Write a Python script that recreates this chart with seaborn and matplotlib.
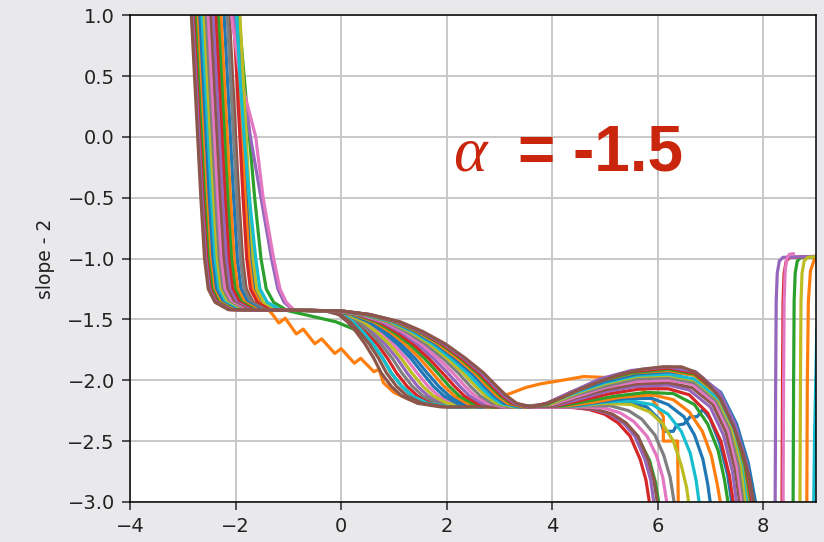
import matplotlib
matplotlib.use("Agg")
import matplotlib.pyplot as plt
import pandas as pd
import seaborn as sns

# ---- data -------------------------------------------------------------
# Upper branch: x position of every curve at these fixed heights
TOP_LEVELS = [1.3, 1.0, 0.5, 0.0, -0.5, -1.0, -1.25, -1.36, -1.42]
top_x = [
    [-1.99, -1.96, -1.90, -1.84, -1.78, -1.71, -1.64, -1.51, -1.26],
    [-2.03, -2.00, -1.94, -1.88, -1.82, -1.75, -1.68, -1.55, -1.38],
    [-1.97, -1.94, -1.84, -1.74, -1.64, -1.52, -1.42, -1.28, -1.05],
    [-2.07, -2.04, -1.98, -1.92, -1.86, -1.79, -1.72, -1.59, -1.34],
    [-2.05, -2.02, -1.88, -1.72, -1.52, -1.32, -1.20, -1.08, -0.92],
    [-2.15, -2.12, -2.06, -2.00, -1.94, -1.87, -1.80, -1.67, -1.42],
    [-2.11, -2.08, -1.92, -1.62, -1.48, -1.28, -1.16, -1.04, -0.90],
    [-2.19, -2.16, -2.10, -2.04, -1.98, -1.91, -1.84, -1.71, -1.46],
    [-1.95, -1.92, -1.86, -1.80, -1.74, -1.67, -1.60, -1.47, -1.22],
    [-2.01, -1.98, -1.92, -1.84, -1.74, -1.62, -1.54, -1.40, -1.16],
    [-2.25, -2.22, -2.16, -2.10, -2.04, -1.97, -1.90, -1.77, -1.52],
    [-2.31, -2.28, -2.22, -2.16, -2.10, -2.03, -1.96, -1.83, -1.58],
    [-2.36, -2.33, -2.27, -2.21, -2.15, -2.08, -2.01, -1.88, -1.63],
    [-2.41, -2.38, -2.32, -2.26, -2.20, -2.13, -2.06, -1.93, -1.68],
    [-2.46, -2.43, -2.37, -2.31, -2.25, -2.18, -2.11, -1.98, -1.73],
    [-2.51, -2.48, -2.42, -2.36, -2.30, -2.23, -2.16, -2.03, -1.78],
    [-2.56, -2.53, -2.47, -2.41, -2.35, -2.28, -2.21, -2.08, -1.83],
    [-2.61, -2.58, -2.52, -2.46, -2.40, -2.33, -2.26, -2.13, -1.88],
    [-2.65, -2.62, -2.56, -2.50, -2.44, -2.37, -2.30, -2.17, -1.92],
    [-2.69, -2.66, -2.60, -2.54, -2.48, -2.41, -2.34, -2.21, -1.96],
    [-2.73, -2.70, -2.64, -2.58, -2.52, -2.45, -2.38, -2.25, -2.00],
    [-2.77, -2.74, -2.68, -2.62, -2.56, -2.49, -2.42, -2.29, -2.04],
    [-2.80, -2.77, -2.71, -2.65, -2.59, -2.52, -2.45, -2.32, -2.07],
    [-2.83, -2.80, -2.74, -2.68, -2.62, -2.55, -2.48, -2.35, -2.10],
    [-2.85, -2.82, -2.76, -2.70, -2.64, -2.57, -2.50, -2.37, -2.12],
    [-2.87, -2.84, -2.78, -2.72, -2.66, -2.59, -2.52, -2.39, -2.14],
]

# Step from the -1.42 plateau down to the -2.22 plateau
STEP_LEVELS = [-1.43, -1.46, -1.52, -1.60, -1.70, -1.82, -1.94, -2.05, -2.13, -2.19, -2.22]
step_x = [
    [-0.165, 0.22, 0.57, 0.85, 1.13, 1.40, 1.63, 1.85, 2.05, 2.30, 2.67],
    None,
    [-1.00, -0.70, -0.10, 0.35, 0.60, 0.79, 0.95, 1.15, 1.35, 1.64, 2.07],
    [-0.255, 0.04, 0.27, 0.47, 0.68, 0.88, 1.05, 1.25, 1.45, 1.73, 2.16],
    [-0.225, 0.10, 0.37, 0.60, 0.83, 1.06, 1.25, 1.45, 1.65, 1.92, 2.33],
    [-0.30, -0.05, 0.12, 0.28, 0.45, 0.62, 0.76, 0.95, 1.15, 1.45, 1.90],
    [-0.195, 0.16, 0.47, 0.72, 0.98, 1.23, 1.44, 1.65, 1.85, 2.11, 2.50],
    [-0.24, 0.07, 0.32, 0.53, 0.75, 0.97, 1.15, 1.35, 1.55, 1.83, 2.24],
    [-0.21, 0.13, 0.42, 0.66, 0.91, 1.14, 1.34, 1.55, 1.75, 2.01, 2.42],
    [-0.27, 0.01, 0.22, 0.41, 0.60, 0.79, 0.95, 1.15, 1.35, 1.64, 2.07],
    [-0.18, 0.19, 0.52, 0.79, 1.06, 1.32, 1.54, 1.75, 1.95, 2.20, 2.59],
    [-0.15, 0.25, 0.62, 0.92, 1.21, 1.49, 1.73, 1.95, 2.15, 2.39, 2.76],
    [-0.135, 0.28, 0.67, 0.98, 1.29, 1.58, 1.83, 2.05, 2.24, 2.48, 2.85],
    [-0.12, 0.31, 0.72, 1.04, 1.36, 1.66, 1.92, 2.15, 2.34, 2.58, 2.93],
    [-0.105, 0.34, 0.77, 1.11, 1.44, 1.75, 2.02, 2.25, 2.44, 2.67, 3.02],
    [-0.285, -0.02, 0.17, 0.34, 0.53, 0.71, 0.86, 1.05, 1.25, 1.54, 1.99],
    [-0.09, 0.37, 0.82, 1.17, 1.51, 1.84, 2.12, 2.35, 2.54, 2.77, 3.10],
    [-0.075, 0.40, 0.87, 1.23, 1.59, 1.93, 2.22, 2.45, 2.64, 2.86, 3.19],
    [-0.06, 0.43, 0.92, 1.30, 1.67, 2.01, 2.31, 2.55, 2.74, 2.95, 3.28],
    [-0.05, 0.45, 0.96, 1.35, 1.73, 2.08, 2.39, 2.63, 2.82, 3.03, 3.34],
    [-0.04, 0.48, 1.00, 1.40, 1.79, 2.15, 2.47, 2.71, 2.90, 3.10, 3.41],
    [-0.03, 0.50, 1.03, 1.44, 1.83, 2.20, 2.53, 2.77, 2.96, 3.16, 3.47],
    [-0.02, 0.51, 1.06, 1.47, 1.88, 2.26, 2.58, 2.83, 3.02, 3.22, 3.52],
    [-0.01, 0.53, 1.08, 1.50, 1.91, 2.29, 2.62, 2.87, 3.06, 3.25, 3.55],
    [-0.005, 0.54, 1.10, 1.52, 1.94, 2.33, 2.66, 2.91, 3.10, 3.29, 3.59],
    [0.00, 0.55, 1.12, 1.55, 1.97, 2.36, 2.70, 2.95, 3.14, 3.33, 3.62],
]

# Remaining part of each curve: hump, fall below -3 and (for some) the return to -0.98
tail_x = [
    [4.4, 4.9, 5.4, 5.8, 6.05, 6.12, 6.3, 6.36, 6.5, 6.62, 6.75, 6.86, 7.0, 7.18, 7.33, 7.44],
    [-1.30, -1.18, -1.06, -0.85, -0.72, -0.50, -0.37, -0.12, 0.00, 0.25, 0.37, 0.62, 0.72, 0.80,
     1.00, 1.30, 1.70, 2.20, 2.60, 2.90, 3.20, 3.50, 3.78, 4.20, 4.60, 5.16, 5.50, 5.85, 6.11,
     6.11, 6.38, 6.40, 8.70, 8.83, 8.84, 8.86, 8.90, 8.98, 9.20],
    [4.4, 4.8, 5.15, 5.42, 5.65, 5.85, 5.96, 6.06, 6.1, 8.54, 8.57, 8.58, 8.59, 8.61, 8.65, 8.72, 9.2],
    [4.3, 4.7, 5.0, 5.25, 5.48, 5.67, 5.78, 5.88, 5.9, 8.33, 8.36, 8.37, 8.38, 8.40, 8.44, 8.51, 9.2],
    [4.4, 4.8, 5.1, 5.35, 5.57, 5.76, 5.87, 5.96, 6.0, 8.2, 8.23, 8.24, 8.25, 8.27, 8.31, 8.38, 9.2],
    [4.45, 4.85, 5.15, 5.4, 5.63, 5.82, 5.93, 6.03],
    [4.6, 5.0, 5.3, 5.55, 5.8, 5.98, 6.1, 6.21, 6.25, 8.35, 8.38, 8.39, 8.40, 8.42, 8.45, 8.50, 8.58],
    [4.7, 5.1, 5.45, 5.7, 5.95, 6.12, 6.24, 6.35],
    [4.5, 5.0, 5.5, 5.85, 6.1, 6.3, 6.45, 6.55, 6.62, 6.65, 8.67, 8.70, 8.71, 8.72, 8.74, 8.78, 8.85, 9.2],
    [4.5, 5.0, 5.5, 5.9, 6.2, 6.45, 6.62, 6.73, 6.82, 6.85, 8.94, 8.96, 8.98, 9.02, 9.1],
    [4.4, 4.9, 5.4, 5.9, 6.2, 6.5, 6.7, 6.86, 6.95, 7.03],
    [4.3, 4.8, 5.3, 5.9, 6.3, 6.6, 6.85, 7.02, 7.13, 7.23],
    [4.2, 4.7, 5.2, 5.8, 6.3, 6.7, 6.95, 7.15, 7.27, 7.37],
    [4.1, 4.6, 5.1, 5.7, 6.2, 6.6, 6.95, 7.2, 7.36, 7.47],
    [4.05, 4.55, 5.05, 5.6, 6.2, 6.6, 7.0, 7.25, 7.42, 7.53],
    [4.0, 4.5, 5.0, 5.6, 6.2, 6.65, 7.05, 7.3, 7.47, 7.59],
    [4.0, 4.5, 5.0, 5.6, 6.2, 6.65, 7.1, 7.35, 7.51, 7.63],
    [3.95, 4.45, 5.0, 5.6, 6.2, 6.7, 7.12, 7.38, 7.55, 7.67],
    [3.95, 4.45, 5.0, 5.6, 6.2, 6.7, 7.15, 7.42, 7.59, 7.71],
    [3.9, 4.4, 5.0, 5.6, 6.2, 6.7, 7.18, 7.45, 7.63, 7.75],
    [3.9, 4.4, 5.0, 5.6, 6.2, 6.75, 7.2, 7.5, 7.72, 7.9],
    [3.9, 4.4, 4.95, 5.55, 6.2, 6.7, 7.15, 7.45, 7.65, 7.79],
    [3.9, 4.35, 4.95, 5.5, 6.2, 6.7, 7.15, 7.45, 7.66, 7.81],
    [3.9, 4.3, 4.9, 5.5, 6.2, 6.7, 7.17, 7.46, 7.68, 7.83],
    [3.9, 4.25, 4.9, 5.5, 6.2, 6.72, 7.18, 7.47, 7.7, 7.85],
    [3.9, 4.2, 4.55, 4.9, 5.3, 5.7, 6.1, 6.45, 6.7, 6.85, 7.0, 7.19, 7.44, 7.62, 7.75, 7.86],
]
tail_y = [
    [-2.22, -2.20, -2.18, -2.22, -2.33, -2.42, -2.42, -2.37, -2.36, -2.30, -2.30, -2.24, -2.32, -2.52, -2.78, -3.10],
    [-1.46, -1.53, -1.49, -1.62, -1.58, -1.70, -1.66, -1.78, -1.74, -1.86, -1.82, -1.93, -1.91, -2.02,
     -2.10, -2.16, -2.20, -2.22, -2.20, -2.15, -2.11, -2.06, -2.03, -2.00, -1.97, -1.98, -2.02, -2.12, -2.30,
     -2.50, -2.50, -3.30, -3.30, -3.05, -2.00, -1.35, -1.10, -1.00, -0.98],
    [-2.22, -2.24, -2.29, -2.37, -2.49, -2.66, -2.84, -3.10, -3.3, -3.3, -3.05, -2.0, -1.35, -1.12, -1.02, -0.99, -0.98],
    [-2.22, -2.24, -2.28, -2.35, -2.46, -2.65, -2.82, -3.10, -3.3, -3.3, -3.05, -2.0, -1.35, -1.12, -1.02, -0.99, -0.98],
    [-2.22, -2.24, -2.28, -2.35, -2.46, -2.65, -2.82, -3.10, -3.3, -3.3, -3.05, -2.0, -1.35, -1.12, -1.02, -0.99, -0.98],
    [-2.22, -2.24, -2.28, -2.35, -2.46, -2.65, -2.82, -3.10],
    [-2.22, -2.23, -2.27, -2.34, -2.46, -2.62, -2.80, -3.10, -3.3, -3.3, -3.05, -2.0, -1.35, -1.10, -1.00, -0.965, -0.96],
    [-2.21, -2.21, -2.25, -2.32, -2.45, -2.62, -2.80, -3.10],
    [-2.21, -2.19, -2.20, -2.26, -2.36, -2.50, -2.70, -2.88, -3.10, -3.3, -3.3, -3.05, -2.0, -1.35, -1.12, -1.02, -0.99, -0.98],
    [-2.21, -2.18, -2.17, -2.20, -2.28, -2.42, -2.60, -2.82, -3.10, -3.3, -3.3, -3.05, -2.4, -1.6, -1.2],
    [-2.21, -2.18, -2.15, -2.15, -2.20, -2.30, -2.45, -2.65, -2.85, -3.10],
    [-2.21, -2.18, -2.14, -2.12, -2.16, -2.26, -2.42, -2.62, -2.85, -3.10],
    [-2.21, -2.17, -2.13, -2.10, -2.11, -2.20, -2.36, -2.58, -2.82, -3.10],
    [-2.21, -2.16, -2.11, -2.07, -2.07, -2.12, -2.27, -2.50, -2.78, -3.10],
    [-2.21, -2.15, -2.09, -2.05, -2.04, -2.08, -2.22, -2.45, -2.75, -3.10],
    [-2.21, -2.14, -2.08, -2.03, -2.02, -2.06, -2.20, -2.43, -2.73, -3.10],
    [-2.20, -2.13, -2.06, -2.01, -2.00, -2.03, -2.19, -2.42, -2.72, -3.10],
    [-2.20, -2.12, -2.05, -1.99, -1.98, -2.02, -2.17, -2.40, -2.70, -3.10],
    [-2.20, -2.11, -2.03, -1.97, -1.96, -2.00, -2.16, -2.40, -2.70, -3.10],
    [-2.20, -2.11, -2.02, -1.96, -1.95, -1.99, -2.16, -2.40, -2.70, -3.10],
    [-2.20, -2.10, -2.01, -1.95, -1.93, -1.96, -2.10, -2.36, -2.68, -3.10],
    [-2.20, -2.10, -2.00, -1.94, -1.92, -1.96, -2.12, -2.38, -2.70, -3.10],
    [-2.20, -2.10, -2.00, -1.94, -1.91, -1.95, -2.11, -2.37, -2.70, -3.10],
    [-2.19, -2.11, -2.00, -1.93, -1.90, -1.94, -2.11, -2.37, -2.70, -3.10],
    [-2.19, -2.12, -1.99, -1.92, -1.89, -1.93, -2.10, -2.36, -2.70, -3.10],
    [-2.19, -2.14, -2.07, -2.01, -1.95, -1.91, -1.89, -1.89, -1.93, -1.98, -2.05, -2.15, -2.38, -2.60, -2.82, -3.10],
]

X_TICKS = [-4, -2, 0, 2, 4, 6, 8]
Y_TICKS = [-3.0, -2.5, -2.0, -1.5, -1.0, -0.5, 0.0, 0.5, 1.0]
Y_LABEL = "slope - 2"
ALPHA_VALUE = "-1.5"

# ---- long table, one row per vertex ----------------------------------
rows = []
for k in range(len(top_x)):
    xs = list(top_x[k])
    ys = list(TOP_LEVELS)
    if step_x[k] is not None:
        xs += step_x[k]
        ys += STEP_LEVELS
    xs += tail_x[k]
    ys += tail_y[k]
    name = f"c{k:02d}"
    rows += [(name, x, y) for x, y in zip(xs, ys)]
df = pd.DataFrame(rows, columns=["curve", "x", "y"])
curve_order = [f"c{k:02d}" for k in range(len(top_x))]

# ---- drawing ------------------------------------------------------------
sns.set_style("ticks")
plt.rcParams["font.family"] = ["DejaVu Sans"]

fig, ax = plt.subplots(figsize=(8.24, 5.42), dpi=100)
fig.patch.set_facecolor("#e9e9ec")
fig.subplots_adjust(left=0.158, right=0.990, bottom=0.074, top=0.972)
ax.set_facecolor("white")

palette = sns.color_palette("tab10", n_colors=len(curve_order))
sns.lineplot(data=df, x="x", y="y", hue="curve", hue_order=curve_order,
             palette=palette, sort=False, estimator=None, legend=False,
             linewidth=2.3, ax=ax)

ax.set_xlim(-4, 9)
ax.set_ylim(-3, 1)
ax.set_xticks(X_TICKS)
ax.set_yticks(Y_TICKS)
ax.set_xlabel("")
ax.set_ylabel(Y_LABEL, fontsize=13.5, color="#222222", labelpad=9)
ax.set_axisbelow(True)
ax.grid(True, color="#c8c8c8", linewidth=1.4)
for side in ("left", "right", "top", "bottom"):
    ax.spines[side].set_visible(True)
    ax.spines[side].set_color("black")
    ax.spines[side].set_linewidth(1.1)
ax.tick_params(labelsize=14, length=6, width=1.1, pad=5, labelcolor="#222222")

red = "#c9260d"
ax.text(2.12, -0.277, "α", family=["Liberation Serif", "DejaVu Serif"],
        style="italic", fontsize=46, color=red, va="baseline")
ax.text(3.36, -0.277, f"= {ALPHA_VALUE}", family=["Liberation Sans", "DejaVu Sans"],
        weight="bold", fontsize=46, color=red, va="baseline")

fig.savefig("out.png", dpi=100, facecolor=fig.get_facecolor())
